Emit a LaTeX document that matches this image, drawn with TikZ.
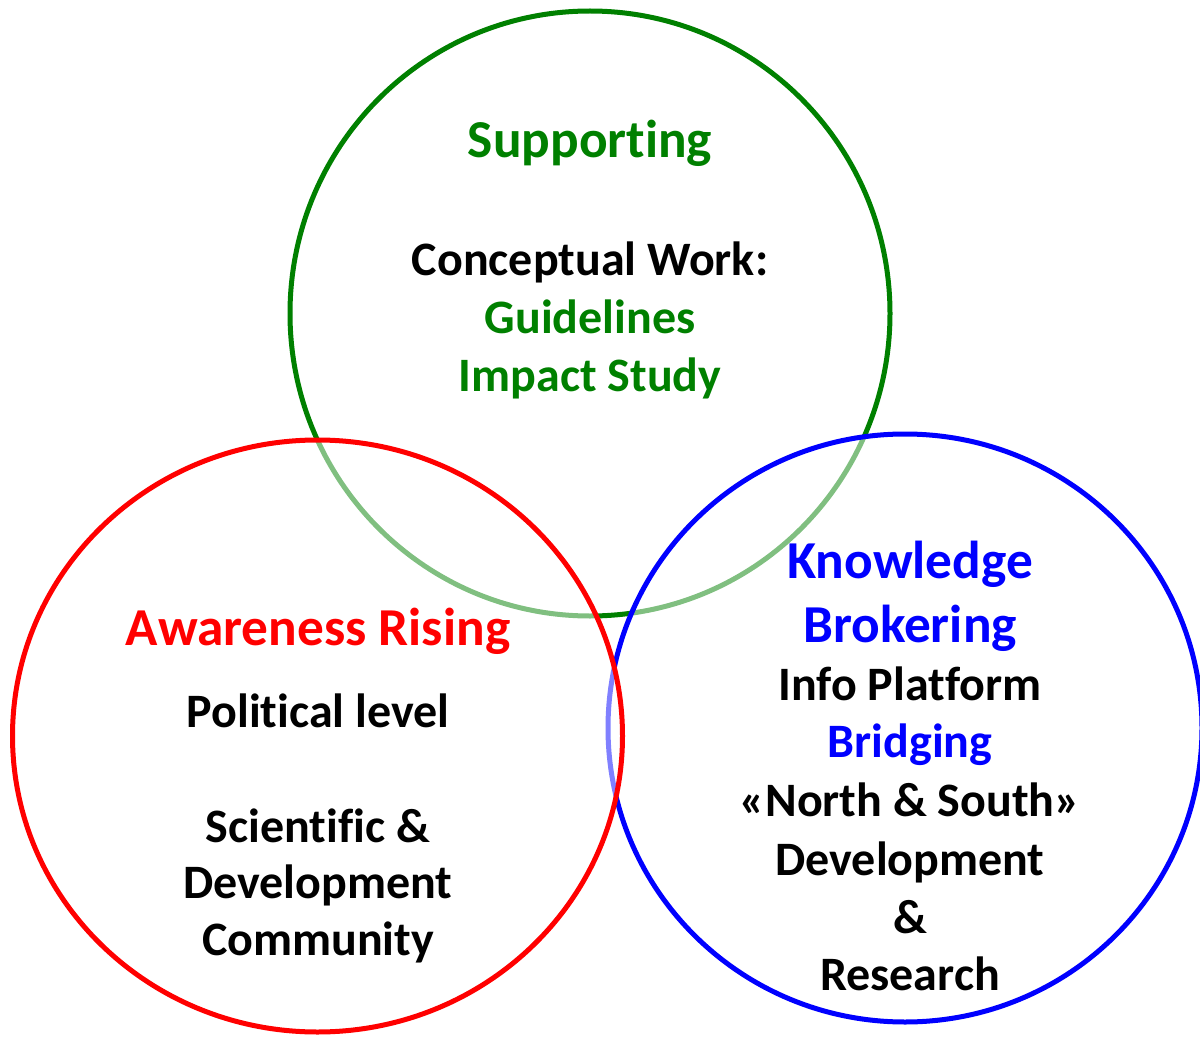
\documentclass[tikz,border=0pt]{standalone}
\usepackage{fontspec}
\setmainfont[Ligatures={NoCommon}]{Carlito}
\definecolor{vgreen}{RGB}{0,128,0}
\definecolor{vred}{RGB}{255,0,0}
\definecolor{vblue}{RGB}{0,0,255}
\begin{document}
\begin{tikzpicture}[x=0.75pt,y=-0.75pt,line width=3.75pt,
    head/.style={anchor=base,inner sep=0pt,font=\fontsize{40}{48}\selectfont\bfseries},
    body/.style={anchor=base,inner sep=0pt,font=\fontsize{36}{43}\selectfont\bfseries}]
    \useasboundingbox (0,0) rectangle (1200,1038);
    \clip (0,0) rectangle (1200,1038);
    %Circles
    \draw[vgreen] (590,313.5) ellipse [x radius=300, y radius=302.5];
    \draw[vblue,fill=white,fill opacity=0.5] (905,728) ellipse [x radius=297, y radius=294];
    \draw[vred,fill=white,fill opacity=0.5] (317.5,736) ellipse [x radius=305, y radius=296];
    %Supporting
    \node[head,vgreen] (sup) at (590,158) {Supporting};
    \node[body] (cw) at (590,275) {Conceptual Work:};
    \node[body,vgreen] (gl) at (590,333) {Guidelines};
    \node[body,vgreen] (is) at (590,391) {Impact Study};
    %Awareness
    \node[head,vred] (aw) at (318,645) {Awareness Rising};
    \node[body] (pl) at (318,727) {Political level};
    \node[body] (sc) at (318,842) {Scientific \&};
    \node[body] (dv) at (318,898) {Development};
    \node[body] (cm) at (318,955) {Community};
    %Knowledge
    \node[head,vblue] (kn) at (910,578) {Knowledge};
    \node[head,vblue] (br) at (910,642) {Brokering};
    \node[body] (ip) at (910,700) {Info Platform};
    \node[body,vblue] (bg) at (910,757) {Bridging};
    \node[body] (ns) at (910,816) {«North \& South»};
    \node[body] (dr) at (910,875) {Development};
    \node[body] (am) at (910,933) {\&};
    \node[body] (rs) at (910,990) {Research};
\end{tikzpicture}
\end{document}
